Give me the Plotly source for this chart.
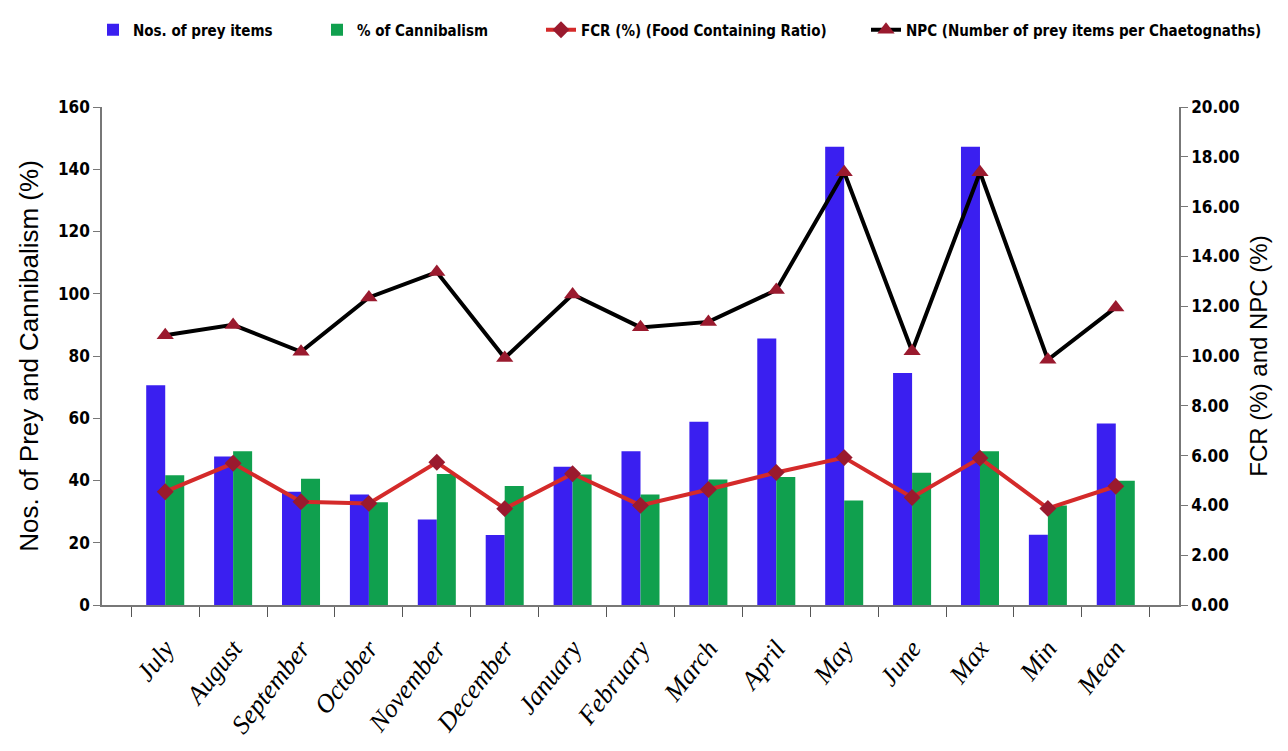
import plotly.graph_objects as go

categories = ["July", "August", "September", "October", "November", "December",
              "January", "February", "March", "April", "May", "June", "Max", "Min", "Mean"]
prey_items = [70.6, 47.7, 36.4, 35.5, 27.5, 22.5, 44.4, 49.4, 58.9, 85.6, 147.2, 74.5, 147.2, 22.6, 58.3]
cannibalism = [41.7, 49.4, 40.6, 33.0, 42.1, 38.2, 41.9, 35.5, 40.3, 41.1, 33.6, 42.5, 49.4, 32.0, 39.9]
fcr = [4.55, 5.69, 4.15, 4.08, 5.73, 3.87, 5.27, 4.00, 4.64, 5.32, 5.92, 4.32, 5.90, 3.88, 4.77]
npc = [10.83, 11.25, 10.17, 12.35, 13.37, 9.92, 12.47, 11.15, 11.37, 12.65, 17.38, 10.19, 17.38, 9.85, 11.95]

left_ticks = [0, 20, 40, 60, 80, 100, 120, 140, 160]
right_ticks = [0, 2, 4, 6, 8, 10, 12, 14, 16, 18, 20]

narrow = "DejaVu Sans Condensed, Liberation Sans Narrow, Arial Narrow, Liberation Sans, sans-serif"
tick_font = dict(family=narrow, size=17, color="black", weight="bold")
title_font = dict(family="Liberation Sans, Arial, sans-serif", size=24, color="black")
legend_font = dict(family=narrow, size=15, color="black", weight="bold")

L, R, T, B = 94, 117, 99, 154
W = 1288 - L - R


def lx(px):
    return (px - L) / W


leg_y = 1 + (T - 22) / (751 - T - B)

fig = go.Figure()
fig.add_trace(go.Bar(x=categories, y=prey_items, name="Nos. of prey items",
                     marker=dict(color="#3a1ff0", line=dict(width=0)), yaxis="y",
                     legend="legend"))
fig.add_trace(go.Bar(x=categories, y=cannibalism, name="% of Cannibalism",
                     marker=dict(color="#10a04e", line=dict(width=0)), yaxis="y",
                     legend="legend2"))
fig.add_trace(go.Scatter(x=categories, y=fcr, name="FCR (%) (Food Containing Ratio)",
                         mode="lines+markers", yaxis="y2", legend="legend3",
                         line=dict(color="#d42a2a", width=4),
                         marker=dict(symbol="diamond", size=13, color="#9a1a2e")))
fig.add_trace(go.Scatter(x=categories, y=npc, name="NPC (Number of prey items per Chaetognaths)",
                         mode="lines+markers", yaxis="y2", legend="legend4",
                         line=dict(color="black", width=4),
                         marker=dict(symbol="triangle-up", size=15, color="#9a1a2e")))

leg_common = dict(orientation="h", yanchor="middle", y=leg_y, xanchor="left",
                  font=legend_font, itemwidth=30, bgcolor="rgba(0,0,0,0)")

fig.update_layout(
    width=1288, height=751,
    margin=dict(l=L, r=R, t=T, b=B, autoexpand=False),
    paper_bgcolor="white", plot_bgcolor="white",
    barmode="group", bargap=0.44, bargroupgap=0,
    showlegend=True,
    legend=dict(x=lx(85), **leg_common),
    legend2=dict(x=lx(309), **leg_common),
    legend3=dict(x=lx(533), **leg_common),
    legend4=dict(x=lx(858), **leg_common),
    xaxis=dict(tickangle=-52, tickson="boundaries", ticks="outside", ticklen=10,
               tickcolor="#555", showline=True, linecolor="#777", linewidth=1.5,
               showgrid=False, ticklabelstandoff=16,
               tickfont=dict(family="Liberation Serif, Times New Roman, serif", size=26,
                             color="black", style="italic")),
    yaxis=dict(range=[0, 160], tickvals=left_ticks, ticks="outside", ticklen=7,
               tickcolor="#777", showline=True, linecolor="#777", linewidth=1.5,
               showgrid=False, zeroline=False, tickfont=tick_font,
               title=dict(text="Nos. of Prey and Cannibalism (%)",
                          font=dict(family="Liberation Sans, Arial, sans-serif", size=26, color="black"),
                          standoff=12)),
    yaxis2=dict(range=[0, 20], tickvals=right_ticks, tickformat=".2f", overlaying="y",
                side="right", ticks="outside", ticklen=7, tickcolor="#777",
                showline=True, linecolor="#777", linewidth=1.5, showgrid=False,
                zeroline=False, tickfont=tick_font,
                title=dict(text="FCR (%) and NPC (%)", font=title_font, standoff=12)),
)

fig.write_html("out.html")
